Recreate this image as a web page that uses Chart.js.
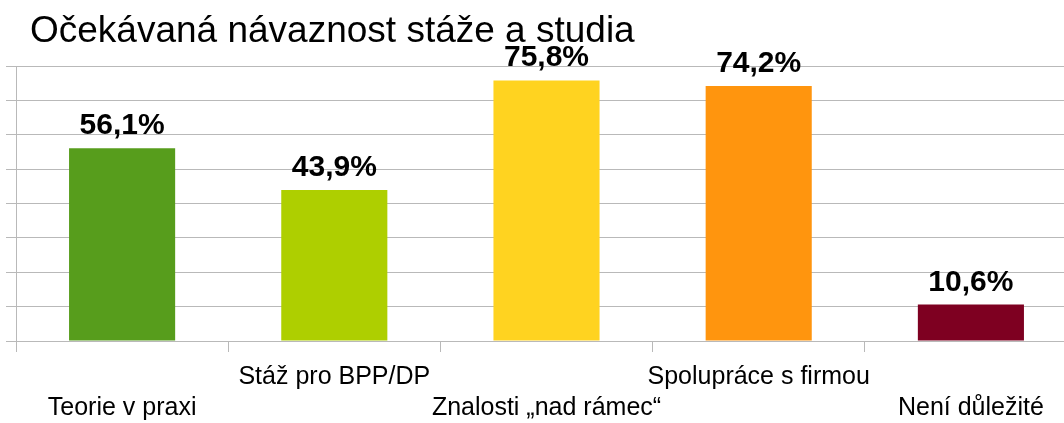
<!DOCTYPE html>
<html>
<head>
<meta charset="utf-8">
<script src="https://cdn.jsdelivr.net/npm/chart.js@4.4.1/dist/chart.umd.min.js"></script>
<style>
  html, body { margin: 0; padding: 0; background: #fff; overflow: hidden; }
  #wrap { width: 1077px; height: 433px; }
</style>
</head>
<body>
<div id="wrap"><canvas id="myBarChart" width="1077" height="433"></canvas></div>
<script>
// chart data
var chartTitle = 'Očekávaná návaznost stáže a studia';
var categories = ['Teorie v praxi', 'Stáž pro BPP/DP', 'Znalosti „nad rámec“', 'Spolupráce s firmou', 'Není důležité'];
var values = [56.1, 43.9, 75.8, 74.2, 10.6];
var barColors = ['#579d1c', '#aecf00', '#ffd320', '#ff950e', '#7e0021'];

var gridColor = '#b9b9b9';
var fontFamily = '"Liberation Sans", Arial, sans-serif';

// value labels above the bars
var valueLabels = {
    id: 'valueLabels',
    afterDatasetsDraw: function (chart) {
        var ctx = chart.ctx;
        var meta = chart.getDatasetMeta(0);
        ctx.save();
        ctx.font = 'bold 30px ' + fontFamily;
        ctx.fillStyle = '#000';
        ctx.textAlign = 'center';
        ctx.textBaseline = 'alphabetic';
        meta.data.forEach(function (bar, i) {
            var txt = values[i].toFixed(1).replace('.', ',') + '%';
            ctx.fillText(txt, bar.x, bar.y - 14);
        });
        ctx.restore();
    }
};

// title drawn at the top-left
var titlePlugin = {
    id: 'titleText',
    afterDraw: function (chart) {
        var ctx = chart.ctx;
        ctx.save();
        ctx.font = '37px ' + fontFamily;
        ctx.fillStyle = '#000';
        ctx.textAlign = 'left';
        ctx.textBaseline = 'alphabetic';
        ctx.fillText(chartTitle, 30, 42);
        ctx.restore();
    }
};

var ctx = document.getElementById('myBarChart');
var myBarChart = new Chart(ctx, {
    type: 'bar',
    data: {
        labels: categories,
        datasets: [{
            data: values,
            backgroundColor: barColors,
            borderWidth: 0,
            categoryPercentage: 1,
            barPercentage: 0.5
        }]
    },
    options: {
        responsive: false,
        animation: false,
        layout: {
            padding: { top: 66, left: 6, right: 0, bottom: 0 }
        },
        plugins: {
            legend: { display: false },
            title: { display: false },
            tooltip: { enabled: false }
        },
        scales: {
            x: {
                offset: true,
                grid: {
                    offset: true,
                    drawOnChartArea: false,
                    drawTicks: true,
                    tickLength: 11,
                    color: gridColor
                },
                border: { color: gridColor },
                ticks: {
                    autoSkip: false,
                    maxRotation: 0,
                    minRotation: 0,
                    padding: 9,
                    color: '#000',
                    font: { family: fontFamily, size: 25, lineHeight: 1.26 },
                    callback: function (value, index) {
                        var label = categories[index];
                        return index % 2 === 0 ? ['', label] : [label];
                    }
                }
            },
            y: {
                min: 0,
                max: 80,
                grid: {
                    color: gridColor,
                    tickLength: 10
                },
                border: { color: gridColor },
                ticks: {
                    stepSize: 10,
                    display: false
                }
            }
        }
    },
    plugins: [valueLabels, titlePlugin]
});
</script>
</body>
</html>
